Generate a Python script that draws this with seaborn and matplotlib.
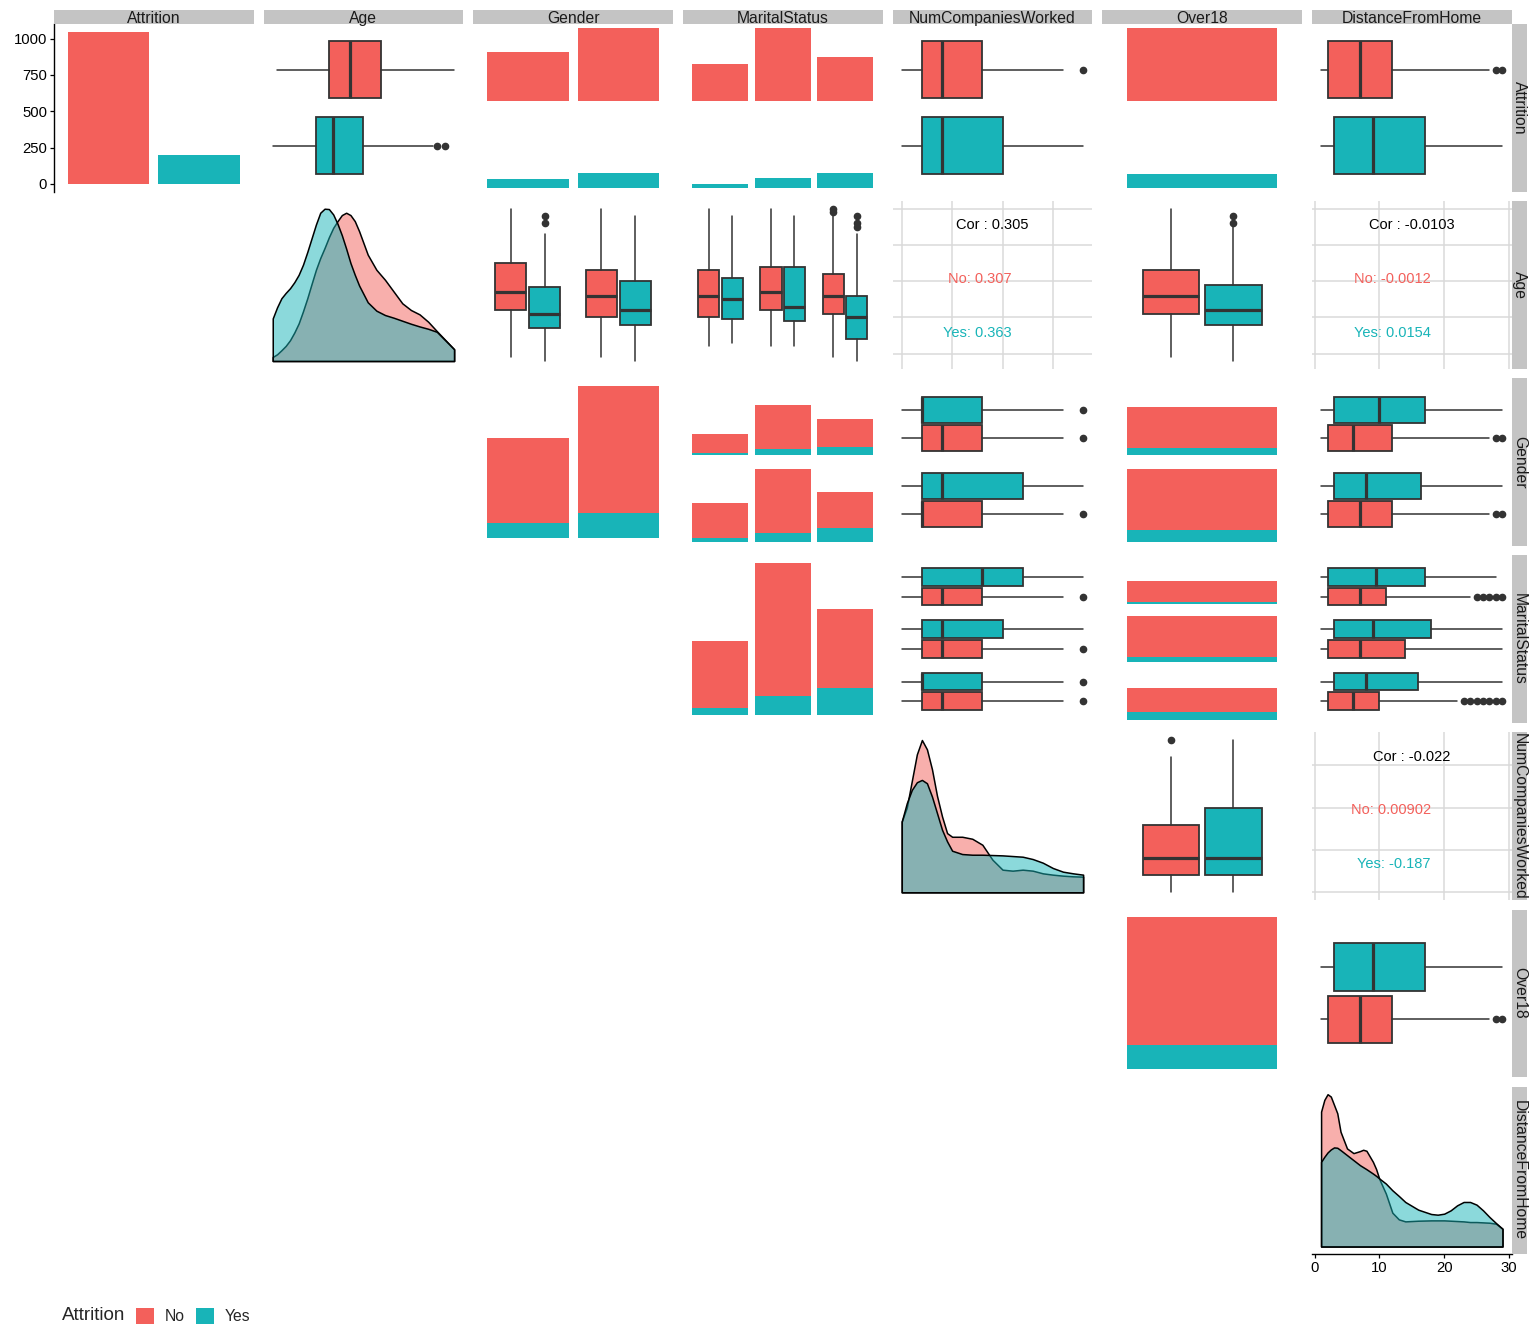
import matplotlib
matplotlib.use("Agg")
import matplotlib.pyplot as plt
from matplotlib.patches import Patch
import seaborn as sns

# ======================
# 1. Dados
# ======================
variaveis = ["Attrition", "Age", "Gender", "MaritalStatus",
             "NumCompaniesWorked", "Over18", "DistanceFromHome"]

attr_levels = ["No", "Yes"]
attr_counts = [1048, 199]

gender_levels = ["Female", "Male"]
gender_no = [420, 628]
gender_yes = [75, 124]

marital_levels = ["Divorced", "Married", "Single"]
marital_no = [250, 500, 298]
marital_yes = [28, 70, 101]

over18_levels = ["Y"]
over18_no = [1048]
over18_yes = [199]

female_marital_no = [88, 202, 130]
female_marital_yes = [10, 28, 37]
male_marital_no = [162, 298, 168]
male_marital_yes = [18, 42, 64]

# boxplots: [bigode inf, Q1, mediana, Q3, bigode sup]
age_no = [19, 31, 36, 43, 60]
age_no_out = []
age_yes = [18, 28, 32, 39, 55]
age_yes_out = [56, 58]

age_gender_no = [[19, 32, 37, 45, 60], [19, 30, 36, 43, 60]]
age_gender_no_out = [[], []]
age_gender_yes = [[18, 27, 31, 38.5, 53], [18, 28, 32, 40, 58]]
age_gender_yes_out = [[56, 58], []]

age_marital_no = [[22, 30, 36, 43, 60], [22, 32, 37, 44, 60], [19, 31, 36, 42, 58]]
age_marital_no_out = [[], [], [59, 60]]
age_marital_yes = [[23, 29.5, 35, 41, 58], [22, 29, 33, 44, 58], [18, 24, 30, 36, 53]]
age_marital_yes_out = [[], [], [55, 56, 58]]

nc_no = [0, 1, 2, 4, 8]
nc_no_out = [9]
nc_yes = [0, 1, 2, 5, 9]
nc_yes_out = []

nc_gender_no = [[0, 1, 2, 4, 8], [0, 1, 1, 4, 8]]
nc_gender_no_out = [[9], [9]]
nc_gender_yes = [[0, 1, 1, 4, 8], [0, 1, 2, 6, 9]]
nc_gender_yes_out = [[9], []]

nc_marital_no = [[0, 1, 2, 4, 8], [0, 1, 2, 4, 8], [0, 1, 2, 4, 8]]
nc_marital_no_out = [[9], [9], [9]]
nc_marital_yes = [[0, 1, 4, 6, 9], [0, 1, 2, 5, 9], [0, 1, 1, 4, 8]]
nc_marital_yes_out = [[], [], [9]]

dist_no = [1, 2, 7, 12, 27]
dist_no_out = [28, 29]
dist_yes = [1, 3, 9, 17, 29]
dist_yes_out = []

dist_gender_no = [[1, 2, 6, 12, 27], [1, 2, 7, 12, 27]]
dist_gender_no_out = [[28, 29], [28, 29]]
dist_gender_yes = [[1, 3, 10, 17, 29], [1, 3, 8, 16.5, 29]]
dist_gender_yes_out = [[], []]

dist_marital_no = [[1, 2, 7, 11, 24], [1, 2, 7, 14, 29], [1, 2, 6, 10, 22]]
dist_marital_no_out = [[25, 26, 27, 28, 29], [], [23, 24, 25, 26, 27, 28, 29]]
dist_marital_yes = [[1, 2, 9.5, 17, 28], [1, 3, 9, 18, 29], [1, 3, 8, 16, 29]]
dist_marital_yes_out = [[], [], []]

# densidades (altura relativa)
age_grid = [18, 19, 20, 21, 22, 23, 24, 25, 26, 27, 28, 29, 30, 31, 32, 33, 34, 35, 36, 37, 38,
            40, 42, 44, 46, 48, 50, 52, 54, 56, 58, 60]
age_dens_no = [12, 20, 32, 45, 62, 85, 112, 148, 187, 230, 272, 307, 337, 369, 397, 417, 435,
               442, 435, 417, 387, 317, 272, 242, 207, 172, 152, 139, 117, 89, 62, 35]
age_dens_yes = [127, 160, 187, 203, 217, 235, 257, 287, 325, 366, 407, 442, 454, 453, 437, 409,
                375, 335, 292, 257, 225, 175, 150, 137, 129, 120, 111, 103, 96, 87, 61, 35]

nc_grid = [0, 0.25, 0.5, 0.75, 1, 1.25, 1.5, 1.75, 2, 2.25, 2.5, 3, 3.5, 4,
           4.5, 5, 5.5, 6, 6.5, 7, 7.5, 8, 8.5, 9]
nc_dens_no = [213, 255, 335, 415, 458, 430, 370, 290, 228, 178, 167, 167, 161, 143,
              98, 68, 65, 68, 65, 57, 53, 50, 48, 47]
nc_dens_yes = [213, 268, 308, 331, 338, 328, 288, 238, 188, 153, 125, 115, 113, 113,
               112, 111, 109, 107, 100, 89, 73, 62, 57, 53]

dist_grid = [1, 1.5, 2, 2.5, 3, 3.5, 4, 5, 6, 7, 7.5, 8, 9, 9.5, 10, 11, 12, 13, 14,
             16, 18, 19, 20, 21, 22, 23, 24, 25, 26, 27, 28, 29]
dist_dens_no = [403, 438, 455, 448, 423, 398, 343, 293, 279, 285, 289, 286, 253, 231,
                201, 158, 101, 81, 75, 77, 78, 78, 78, 77, 76, 75, 73, 73, 72, 71, 68, 53]
dist_dens_yes = [253, 268, 281, 290, 296, 295, 288, 273, 258, 243, 237, 231, 218, 211,
                 203, 188, 168, 151, 133, 110, 97, 95, 98, 108, 123, 133, 133, 125, 108,
                 88, 70, 53]

# correlações: total, No, Yes
cor_age_nc = [0.305, 0.307, 0.363]
cor_age_dist = [-0.0103, -0.0012, 0.0154]
cor_nc_dist = [-0.022, 0.00902, -0.187]

# ======================
# 2. Estilo
# ======================
RED = "#F3605B"
TEAL = "#18B4B8"
EDGE = "#333333"
STRIP = "#C4C4C4"
GRID = "#DADADA"

sns.set_theme(style="white")
plt.rcParams["font.family"] = ["Liberation Sans", "DejaVu Sans"]

AGE_LIM = (18 - 2.1, 60 + 2.1)
NC_LIM = (-0.45, 9.45)
DIST_LIM = (1 - 1.4, 29 + 1.4)

W, H = 1536, 1344
fig = plt.figure(figsize=(W / 100, H / 100), dpi=100)

COL_X = [54 + j * 209.67 for j in range(7)]
ROW_Y = [24 + i * 177.1 for i in range(7)]
PW, PH = 199.5, 167.5
GAP = 7


def clean(ax):
    for s in ax.spines.values():
        s.set_visible(False)
    ax.tick_params(left=False, bottom=False, labelleft=False, labelbottom=False)
    ax.set_xlabel("")
    ax.set_ylabel("")
    ax.grid(False)


def add_ax(x, y, w, h):
    ax = fig.add_axes([x / W, 1 - (y + h) / H, w / W, h / H])
    ax.set_facecolor("white")
    clean(ax)
    return ax


def panel(i, j):
    return add_ax(COL_X[j], ROW_Y[i], PW, PH)


def facets(i, j, n):
    fh = (PH - (n - 1) * GAP) / n
    return [add_ax(COL_X[j], ROW_Y[i] + k * (fh + GAP), PW, fh) for k in range(n)]


def barras(ax, cats, valores, cor, top):
    sns.barplot(x=cats, y=valores, color=cor, saturation=1, width=0.9,
                linewidth=0, errorbar=None, ax=ax)
    ax.set_xlim(-0.6, len(cats) - 0.4)
    ax.set_ylim(-0.05 * top, 1.05 * top)
    clean(ax)


def empilhado(ax, cats, no, yes, top):
    total = [a + b for a, b in zip(no, yes)]
    barras(ax, cats, total, RED, top)
    barras(ax, cats, yes, TEAL, top)


def caixa(ax, five, out, pos, width, cor, horizontal):
    lo, q1, med, q3, hi = five
    st = dict(whislo=lo, q1=q1, med=med, q3=q3, whishi=hi, fliers=list(out))
    ax.bxp([st], positions=[pos], widths=[width], patch_artist=True, showcaps=False,
           orientation="horizontal" if horizontal else "vertical", manage_ticks=False,
           boxprops=dict(facecolor=cor, edgecolor=EDGE, linewidth=1.3),
           medianprops=dict(color=EDGE, linewidth=2.3, solid_capstyle="butt"),
           whiskerprops=dict(color=EDGE, linewidth=1.1),
           flierprops=dict(marker="o", markersize=4.5, markerfacecolor=EDGE,
                           markeredgecolor=EDGE))


def caixas_attr(i, j, no, no_out, yes, yes_out, lim):
    ax = panel(i, j)
    caixa(ax, no, no_out, 0, 0.75, RED, True)
    caixa(ax, yes, yes_out, 1, 0.75, TEAL, True)
    ax.set_xlim(lim)
    ax.set_ylim(1.6, -0.6)
    clean(ax)


def caixas_dodge(i, j, no, no_out, yes, yes_out, lim, horizontal):
    ax = panel(i, j)
    n = len(no)
    d = 0.1875 if horizontal else -0.1875
    for k in range(n):
        caixa(ax, no[k], no_out[k], k + d, 0.34, RED, horizontal)
        caixa(ax, yes[k], yes_out[k], k - d, 0.34, TEAL, horizontal)
    if horizontal:
        ax.set_xlim(lim)
        ax.set_ylim(n - 0.4, -0.6)
    else:
        ax.set_ylim(lim)
        ax.set_xlim(-0.6, n - 0.4)
    clean(ax)


def densidade(i, j, grid, no, yes, lim):
    ax = panel(i, j)
    top = max(max(no), max(yes))
    ax.fill_between(grid, no, 0, facecolor=(*matplotlib.colors.to_rgb(RED), 0.5),
                    edgecolor="black", linewidth=1.1)
    ax.fill_between(grid, yes, 0, facecolor=(*matplotlib.colors.to_rgb(TEAL), 0.5),
                    edgecolor="black", linewidth=1.1)
    ax.set_xlim(lim)
    ax.set_ylim(-0.05 * top, 1.05 * top)
    clean(ax)
    return ax


def correlacao(i, j, xlim, ylim, xb, yb, valores):
    ax = panel(i, j)
    ax.set_xlim(xlim)
    ax.set_ylim(ylim)
    for v in xb:
        ax.axvline(v, color=GRID, linewidth=1.1)
    for v in yb:
        ax.axhline(v, color=GRID, linewidth=1.1)
    ax.text(0.5, 0.856, f"Cor : {valores[0]}", transform=ax.transAxes,
            ha="center", va="center", fontsize=10.5, color="black")
    ax.text(0.596, 0.535, f"No: {valores[1]}", transform=ax.transAxes,
            ha="right", va="center", fontsize=10.5, color=RED)
    ax.text(0.596, 0.215, f"Yes: {valores[2]}", transform=ax.transAxes,
            ha="right", va="center", fontsize=10.5, color=TEAL)


# ======================
# 3. Linha Attrition
# ======================
ax = panel(0, 0)
sns.barplot(x=attr_levels, y=attr_counts, hue=attr_levels, palette=[RED, TEAL],
            saturation=1, width=0.9, linewidth=0, errorbar=None, legend=False, ax=ax)
ax.set_xlim(-0.6, 1.6)
ax.set_ylim(-0.05 * attr_counts[0], 1.05 * attr_counts[0])
clean(ax)
ax.spines["left"].set_visible(True)
ax.spines["left"].set_color("black")
ax.spines["left"].set_linewidth(1.0)
ax.set_yticks([0, 250, 500, 750, 1000])
ax.tick_params(left=True, labelleft=True, length=3, width=0.9, color="black",
               labelsize=10.7, labelcolor="black", pad=2)

caixas_attr(0, 1, age_no, age_no_out, age_yes, age_yes_out, AGE_LIM)

top_g = max(gender_no + gender_yes)
a1, a2 = facets(0, 2, 2)
barras(a1, gender_levels, gender_no, RED, top_g)
barras(a2, gender_levels, gender_yes, TEAL, top_g)

top_m = max(marital_no + marital_yes)
a1, a2 = facets(0, 3, 2)
barras(a1, marital_levels, marital_no, RED, top_m)
barras(a2, marital_levels, marital_yes, TEAL, top_m)

caixas_attr(0, 4, nc_no, nc_no_out, nc_yes, nc_yes_out, NC_LIM)

top_o = max(over18_no + over18_yes)
a1, a2 = facets(0, 5, 2)
barras(a1, over18_levels, over18_no, RED, top_o)
barras(a2, over18_levels, over18_yes, TEAL, top_o)

caixas_attr(0, 6, dist_no, dist_no_out, dist_yes, dist_yes_out, DIST_LIM)

# ======================
# 4. Linha Age
# ======================
densidade(1, 1, age_grid, age_dens_no, age_dens_yes, AGE_LIM)
caixas_dodge(1, 2, age_gender_no, age_gender_no_out, age_gender_yes,
             age_gender_yes_out, AGE_LIM, False)
caixas_dodge(1, 3, age_marital_no, age_marital_no_out, age_marital_yes,
             age_marital_yes_out, AGE_LIM, False)
correlacao(1, 4, NC_LIM, AGE_LIM, [0, 2.5, 5, 7.5], [20, 30, 40, 50, 60], cor_age_nc)
caixas_dodge(1, 5, [age_no], [age_no_out], [age_yes], [age_yes_out], AGE_LIM, False)
correlacao(1, 6, DIST_LIM, AGE_LIM, [0, 10, 20, 30], [20, 30, 40, 50, 60], cor_age_dist)

# ======================
# 5. Linha Gender
# ======================
ax = panel(2, 2)
empilhado(ax, gender_levels, gender_no, gender_yes,
          max(a + b for a, b in zip(gender_no, gender_yes)))

tot_f = [a + b for a, b in zip(female_marital_no, female_marital_yes)]
tot_m = [a + b for a, b in zip(male_marital_no, male_marital_yes)]
a1, a2 = facets(2, 3, 2)
empilhado(a1, marital_levels, female_marital_no, female_marital_yes, max(tot_f + tot_m))
empilhado(a2, marital_levels, male_marital_no, male_marital_yes, max(tot_f + tot_m))

caixas_dodge(2, 4, nc_gender_no, nc_gender_no_out, nc_gender_yes,
             nc_gender_yes_out, NC_LIM, True)

top_go = max(a + b for a, b in zip(gender_no, gender_yes))
a1, a2 = facets(2, 5, 2)
empilhado(a1, over18_levels, [gender_no[0]], [gender_yes[0]], top_go)
empilhado(a2, over18_levels, [gender_no[1]], [gender_yes[1]], top_go)

caixas_dodge(2, 6, dist_gender_no, dist_gender_no_out, dist_gender_yes,
             dist_gender_yes_out, DIST_LIM, True)

# ======================
# 6. Linha MaritalStatus
# ======================
top_mo = max(a + b for a, b in zip(marital_no, marital_yes))
ax = panel(3, 3)
empilhado(ax, marital_levels, marital_no, marital_yes, top_mo)
caixas_dodge(3, 4, nc_marital_no, nc_marital_no_out, nc_marital_yes,
             nc_marital_yes_out, NC_LIM, True)
for k, a in enumerate(facets(3, 5, 3)):
    empilhado(a, over18_levels, [marital_no[k]], [marital_yes[k]], top_mo)
caixas_dodge(3, 6, dist_marital_no, dist_marital_no_out, dist_marital_yes,
             dist_marital_yes_out, DIST_LIM, True)

# ======================
# 7. NumCompaniesWorked, Over18, DistanceFromHome
# ======================
densidade(4, 4, nc_grid, nc_dens_no, nc_dens_yes, NC_LIM)
caixas_dodge(4, 5, [nc_no], [nc_no_out], [nc_yes], [nc_yes_out], NC_LIM, False)
correlacao(4, 6, DIST_LIM, NC_LIM, [0, 10, 20, 30], [0, 2.5, 5, 7.5], cor_nc_dist)

ax = panel(5, 5)
empilhado(ax, over18_levels, over18_no, over18_yes, over18_no[0] + over18_yes[0])
caixas_dodge(5, 6, [dist_no], [dist_no_out], [dist_yes], [dist_yes_out], DIST_LIM, True)

ax = densidade(6, 6, dist_grid, dist_dens_no, dist_dens_yes, DIST_LIM)
ax.spines["bottom"].set_visible(True)
ax.spines["bottom"].set_color("black")
ax.spines["bottom"].set_linewidth(1.0)
ax.set_xticks([0, 10, 20, 30])
ax.tick_params(bottom=True, labelbottom=True, length=3, width=0.9, color="black",
               labelsize=10.7, labelcolor="black", pad=2)

# ======================
# 8. Faixas (strips) e legenda
# ======================
for j, nome in enumerate(variaveis):
    s = add_ax(COL_X[j], 9.5, PW, 14.5)
    s.set_facecolor(STRIP)
    s.text(0.5, 0.38, nome, transform=s.transAxes, ha="center", va="center",
           fontsize=11.3, color="#1A1A1A")
for i, nome in enumerate(variaveis):
    s = add_ax(1512, ROW_Y[i], 15, PH)
    s.set_facecolor(STRIP)
    s.text(0.5, 0.5, nome, transform=s.transAxes, ha="center", va="center",
           rotation=270, fontsize=11.3, color="#1A1A1A")

fig.text(62 / W, 1 - 1316 / H, "Attrition", fontsize=13.6, va="center", ha="left")
handles = [Patch(facecolor=RED, edgecolor="none"), Patch(facecolor=TEAL, edgecolor="none")]
fig.legend(handles, attr_levels, loc="center left", bbox_to_anchor=(136 / W, 1 - 1316 / H),
           ncol=2, frameon=False, fontsize=11.3, handlelength=1.15, handleheight=1.15,
           handletextpad=0.65, columnspacing=0.75, borderpad=0, borderaxespad=0)

plt.savefig("out.png", dpi=100)
